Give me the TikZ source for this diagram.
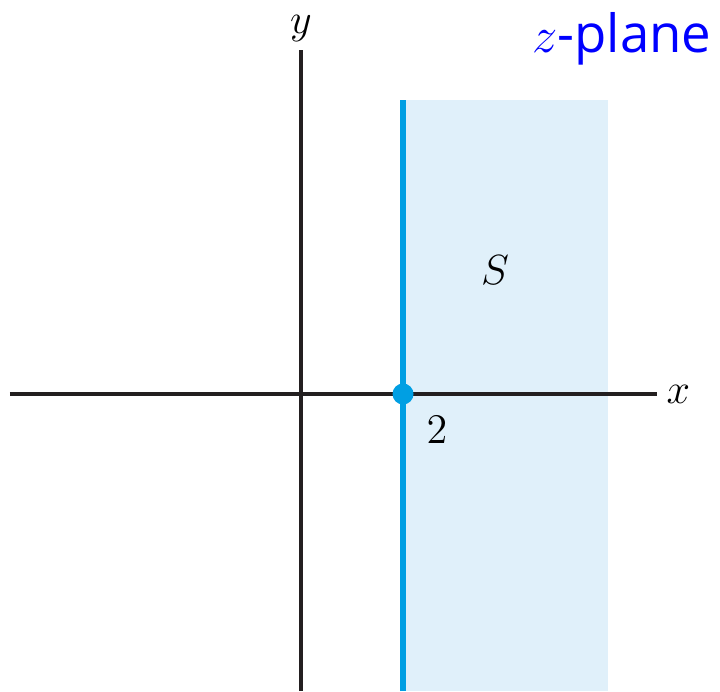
\documentclass[tikz,border=0pt]{standalone}
\usepackage{fontspec}
\newfontfamily\planefont{Open Sans}
\usetikzlibrary{positioning}
\definecolor{cblue}{HTML}{009FE3}
\definecolor{cshade}{HTML}{E0F0FA}
\definecolor{caxis}{HTML}{231F20}
\definecolor{cplane}{HTML}{0000FF}
\tikzset{
  axis/.style={draw=caxis, line width=1.3pt},
  edge/.style={draw=cblue, line width=1.6pt},
  lbl/.style={font=\fontsize{13}{15}\selectfont, inner sep=0pt},
  title/.style={font=\planefont\fontsize{15}{18}\selectfont, text=cplane, inner sep=0pt},
}

\begin{document}
\begin{tikzpicture}
  \useasboundingbox (-3.01,-2.97) rectangle (4.19,3.94);
  % region S: strip to the right of the line x = 2
  \fill[cshade] (1.02,-2.97) rectangle (3.07,2.94);
  % axes
  \coordinate (xstart) at (-2.91,0);
  \coordinate (xend) at (3.56,0);
  \coordinate (ystart) at (0,-2.97);
  \coordinate (yend) at (0,3.44);
  \draw[axis] (xstart) -- (xend);
  \draw[axis] (ystart) -- (yend);
  \node[lbl, right=0.09cm of xend] (xlabel) {$x$};
  \node[lbl, above=0.08cm of yend] (ylabel) {$y$};
  % boundary line and the point 2
  \coordinate (lbot) at (1.02,-2.97);
  \coordinate (ltop) at (1.02,2.94);
  \draw[edge] (lbot) -- (ltop);
  \fill[cblue] (1.02,0) circle (0.105);
  \node[lbl] (two) at (1.36,-0.36) {$2$};
  \node[lbl] (S) at (1.94,1.24) {$S$};
  \node[title, anchor=base east] (plane) at (4.11,3.41) {$z$-plane};
\end{tikzpicture}
\end{document}
